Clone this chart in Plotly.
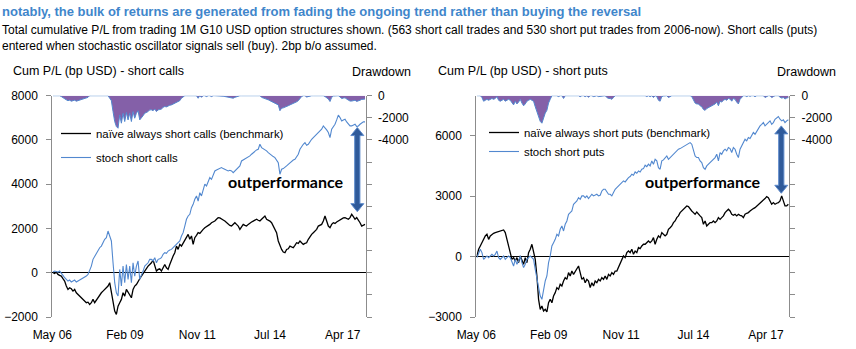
import pandas as pd
import plotly.graph_objects as go

W, H = 856, 349

# ---------------- data ----------------
read_start, read_end = "2006-06-04", "2018-02-14"
axis_start, axis_end = "2006-05-26", "2018-02-23"
tick_dates = ["2006-05-26", "2009-02-13", "2011-11-03", "2014-07-24", "2017-04-13"]
tick_labels = ["May 06", "Feb 09", "Nov 11", "Jul 14", "Apr 17"]

calls_naive = [0, -30, 30, -75, -120, -150, -270, -375, -600, -755, -680, -725, -830, -755, -905, -980,
               -1055, -1130, -1205, -1280, -1355, -1330, -1430, -1355, -1205, -1355, -1235, -1130, -1025,
               -905, -830, -755, -680, -600, -450, -830, -1355, -1735, -1885, -1510, -1355, -1205, -905,
               -1055, -755, -905, -1055, -1130, -755, -600, -530, -375, -270, -150, -30, 75, 180, 300, 375,
               450, 575, 300, 75, 150, 180, 75, 270, 375, 225, 150, 375, 605, 755, 905, 1205, 1055, 1280,
               1205, 1355, 1510, 1660, 1735, 1510, 1660, 1280, 1585, 1690, 1810, 1780, 1885, 1960, 2035,
               2080, 2110, 2185, 2260, 2290, 2335, 2415, 2490, 2475, 2445, 2385, 2335, 2260, 2185, 2140,
               2110, 2185, 2260, 2185, 2110, 1960, 2080, 2185, 2140, 2110, 2185, 2260, 2290, 2335, 2385,
               2415, 2370, 2335, 2415, 2490, 2565, 2415, 2385, 2335, 2260, 2110, 1960, 1810, 1435, 1205,
               1055, 935, 905, 1055, 1085, 1205, 1175, 1130, 1235, 1355, 1325, 1435, 1355, 1280, 1325,
               1355, 1510, 1660, 1735, 1810, 1885, 1960, 2110, 2140, 2185, 2335, 2565, 2335, 2110, 2035,
               2185, 2260, 2230, 2290, 2335, 2415, 2445, 2475, 2490, 2445, 2415, 2490, 2640, 2535, 2415,
               2490, 2385, 2260, 2110, 2140, 2185]

calls_stoch = [30, 75, 60, 30, 75, 0, -120, -225, -300, -375, -330, -420, -375, -330, -420, -375, -330,
               -300, -270, -225, -150, -75, 75, 300, 605, 755, 905, 980, 1130, 1205, 1355, 1510, 1585,
               1885, 1660, 1435, 450, -450, -905, -1055, 150, -600, 300, -450, 375, -300, 300, -450, 450,
               -150, 300, 530, -300, -150, 75, 300, 375, 450, 605, 605, 530, 680, 450, 605, 635, 680, 830,
               905, 875, 980, 1025, 1055, 1130, 1205, 1280, 1355, 1435, 1660, 1810, 2110, 2415, 2565,
               2640, 2940, 3090, 3320, 3470, 3240, 3620, 3470, 3770, 4000, 3920, 4145, 4300, 4220, 4450,
               4600, 4645, 4675, 4705, 4750, 4705, 4675, 4645, 4600, 4630, 4600, 4525, 4600, 4675, 4750,
               4825, 5050, 5095, 5125, 5155, 5200, 5280, 5355, 5430, 5505, 5550, 5580, 5805, 5655, 5610,
               5580, 5505, 5430, 5355, 5280, 5250, 5200, 5095, 4975, 4450, 4675, 4705, 4750, 4825, 4900,
               4975, 5050, 5095, 5125, 5250, 5355, 5580, 5730, 5805, 5880, 5760, 5805, 5955, 6030, 6110,
               6185, 6260, 6335, 6410, 6485, 6635, 6560, 6455, 6335, 6110, 6485, 6605, 6710, 6905, 7120,
               7010, 6860, 6905, 6935, 6815, 6710, 6635, 6635, 6665, 6710, 6605, 6635, 6710, 6785, 6815,
               6815]

puts_naive = [35, 365, 530, 695, 860, 1030, 1110, 860, 1030, 1110, 1160, 1195, 1225, 1225, 1260, 1275,
              1325, 1195, 860, 450, 115, -135, -50, -215, -50, -300, 35, -135, -380, -50, -300, 200, 365,
              615, 200, -135, -960, -2120, -2620, -2455, -2700, -2620, -2750, -2290, -2120, -2290, -1955,
              -1790, -1540, -1625, -1375, -1460, -1210, -1045, -1130, -795, -960, -715, -880, -715, -630,
              -465, -795, -1130, -1045, -1295, -1130, -1210, -1540, -1295, -1460, -1210, -1295, -1130,
              -1210, -1045, -1130, -960, -1130, -880, -960, -795, -880, -715, -715, -545, -300, -135, 35,
              -50, 200, 280, 200, 365, 115, 280, 200, 450, 400, 530, 615, 615, 695, 780, 695, 780, 945,
              615, 860, 1030, 945, 1195, 1110, 1030, 1110, 1360, 1440, 1525, 1690, 1775, 1940, 2025,
              2190, 2270, 2355, 2435, 2520, 2485, 2355, 2270, 2190, 2105, 2220, 2105, 2025, 1940, 1610,
              1775, 1525, 1610, 1690, 1690, 1775, 1690, 1775, 1940, 1855, 1940, 2025, 2190, 2270, 2355,
              2270, 2105, 2055, 2105, 2025, 2105, 2055, 2025, 1940, 2105, 2155, 2190, 2270, 2355, 2390,
              2435, 2520, 2605, 2685, 2770, 2820, 2885, 2985, 2935, 2770, 2605, 2685, 2605, 2655, 2685,
              2770, 3020, 2770, 2520, 2520, 2605]

puts_stoch = [-50, 200, 365, 200, -135, -50, 35, -50, 35, 115, 35, 115, 280, -50, -135, -50, 35, -135,
              -50, 35, -50, -300, -465, -135, -380, -215, 35, -300, -545, -380, -135, -50, 35, -50, -135,
              -630, -1130, -1625, -1955, -2120, -1540, -1210, -960, -300, 35, 530, 695, 860, 1110, 1030,
              1360, 1525, 1275, 1610, 1775, 2105, 2190, 2270, 2605, 2685, 2770, 2935, 2850, 3020, 3020,
              2935, 3020, 2885, 3020, 3100, 3020, 3050, 3100, 3020, 3050, 3265, 3350, 3350, 3185, 3100,
              3100, 3020, 3185, 3350, 3430, 3515, 3600, 3680, 3765, 3715, 3845, 3930, 3980, 4095, 4045,
              4210, 4145, 4260, 4210, 4345, 4375, 4545, 4475, 4595, 4510, 4760, 4595, 4840, 4760, 4425,
              4345, 4760, 4810, 4925, 5005, 4840, 4925, 5040, 5090, 5175, 5255, 5340, 5370, 5420, 5470,
              5540, 5590, 5635, 5670, 5590, 5340, 5005, 4925, 4925, 4760, 4675, 4425, 4345, 4510, 4595,
              4675, 4760, 4810, 4925, 5090, 4760, 5175, 5090, 5255, 5340, 5255, 5420, 5370, 5175, 5420,
              5340, 5090, 4925, 5340, 5505, 5670, 5835, 5755, 5920, 5870, 6000, 6170, 6085, 6250, 6335,
              6500, 6580, 6665, 6500, 6580, 6700, 6750, 6580, 6665, 6830, 6915, 6965, 6830, 6750, 6800,
              6665, 6750, 6800]

left_range = [-2000, 8000]
right_range = [-3000, 8000]
dd_range = [-20000, 0]
dd_ticks = list(range(0, -20001, -2000))
dd_ticktext = ["0", "-2000", "-4000"] + [""] * (len(dd_ticks) - 3)

# arrows (date, top value, bottom value)
left_arrow = ("2017-10-31", 6560, 2760)
right_arrow = ("2017-11-09", 6500, 3150)

# ---------------- styling ----------------
BLUE = "#5288CF"
PURPLE = "#8460A8"
AXIS_GREY = "#8C8C8C"
TITLE_BLUE = "#3F86CB"
ARROW_FILL = "#2F5A9A"
ARROW_EDGE = "#5D8ACB"
FONT = "Liberation Sans, Arial, sans-serif"

y_dom = [1 - 317.0 / H, 1 - 95.7 / H]
xL_dom = [52.3 / W, 365.7 / W]
xR_dom = [476.3 / W, 789.0 / W]


def dates_for(vals):
    return pd.date_range(read_start, read_end, periods=len(vals))


def drawdown(vals):
    s = pd.Series(vals, dtype=float)
    return (s - s.cummax()).tolist()


fig = go.Figure()

# left chart
fig.add_trace(go.Scatter(x=dates_for(calls_stoch), y=drawdown(calls_stoch), xaxis="x", yaxis="y2",
                         mode="lines", line=dict(color=BLUE, width=1), fill="tozeroy",
                         fillcolor=PURPLE, showlegend=False, hoverinfo="skip"))
fig.add_trace(go.Scatter(x=dates_for(calls_naive), y=calls_naive, xaxis="x", yaxis="y",
                         mode="lines", line=dict(color="#000000", width=1.3),
                         name="naïve always short calls (benchmark)", legend="legend", legendgroup="a"))
fig.add_trace(go.Scatter(x=dates_for(calls_stoch), y=calls_stoch, xaxis="x", yaxis="y",
                         mode="lines", line=dict(color=BLUE, width=1.1),
                         name="stoch short calls", legend="legend", legendgroup="b"))
# right chart
fig.add_trace(go.Scatter(x=dates_for(puts_stoch), y=drawdown(puts_stoch), xaxis="x2", yaxis="y4",
                         mode="lines", line=dict(color=BLUE, width=1), fill="tozeroy",
                         fillcolor=PURPLE, showlegend=False, hoverinfo="skip"))
fig.add_trace(go.Scatter(x=dates_for(puts_naive), y=puts_naive, xaxis="x2", yaxis="y3",
                         mode="lines", line=dict(color="#000000", width=1.3),
                         name="naïve always short puts (benchmark)", legend="legend2", legendgroup="c"))
fig.add_trace(go.Scatter(x=dates_for(puts_stoch), y=puts_stoch, xaxis="x2", yaxis="y3",
                         mode="lines", line=dict(color=BLUE, width=1.1),
                         name="stoch short puts", legend="legend2", legendgroup="d"))

tickfont = dict(family=FONT, size=12, color="#000000")


def xaxis(dom, anchor):
    return dict(domain=dom, anchor=anchor, type="date", range=[axis_start, axis_end], tickvals=tick_dates,
                ticktext=tick_labels, showline=False, ticks="", showgrid=False, zeroline=False,
                tickfont=tickfont, ticklabelstandoff=9, automargin=False, fixedrange=True)


def tick_overlay(base, yrange):
    pos = y_dom[0] + (0 - yrange[0]) / (yrange[1] - yrange[0]) * (y_dom[1] - y_dom[0])
    return dict(overlaying=base, anchor="free", position=pos, type="date", range=[axis_start, axis_end],
                tickvals=tick_dates, ticks="outside", ticklen=5, tickcolor="#000000", tickwidth=1,
                showticklabels=False, showline=False, showgrid=False, zeroline=False, automargin=False)


def yleft(anchor, rng, dtick):
    return dict(domain=y_dom, anchor=anchor, range=rng, dtick=dtick, tick0=0, ticks="outside",
                ticklen=5, tickcolor=AXIS_GREY, showline=True, linecolor=AXIS_GREY, linewidth=1,
                showgrid=False, zeroline=True, zerolinecolor="#000000", zerolinewidth=1,
                tickfont=tickfont, ticklabelstandoff=6, automargin=False)


def yright(anchor, base):
    return dict(overlaying=base, anchor=anchor, side="right", range=dd_range, tickvals=dd_ticks,
                ticktext=dd_ticktext, ticks="outside", ticklen=5, tickcolor=AXIS_GREY, showline=True,
                linecolor=AXIS_GREY, linewidth=1, showgrid=False, zeroline=False, tickfont=tickfont,
                ticklabelstandoff=4, automargin=False)


legend_font = dict(family=FONT, size=11.4, color="#000000")

fig.update_layout(
    width=W, height=H, margin=dict(l=0, r=0, t=0, b=0, autoexpand=False),
    paper_bgcolor="white", plot_bgcolor="rgba(0,0,0,0)",
    xaxis=xaxis(xL_dom, "y"), xaxis2=xaxis(xR_dom, "y3"),
    xaxis3=tick_overlay("x", left_range), xaxis4=tick_overlay("x2", right_range),
    yaxis=yleft("x", left_range, 2000), yaxis2=yright("x", "y"),
    yaxis3=yleft("x2", right_range, 3000), yaxis4=yright("x2", "y3"),
    legend=dict(x=56 / W, y=1 - 119 / H, xanchor="left", yanchor="top", bgcolor="rgba(0,0,0,0)",
                font=legend_font, tracegroupgap=5, itemwidth=30),
    legend2=dict(x=484 / W, y=1 - 118 / H, xanchor="left", yanchor="top", bgcolor="rgba(0,0,0,0)",
                 font=legend_font, tracegroupgap=0, itemwidth=30),
    showlegend=True,
)


def arrow_shape(xref, yref, spec, head_px):
    xd, ytop, ybot = spec
    rng = left_range if yref == "y" else right_range
    px_per_unit = (y_dom[1] - y_dom[0]) * H / (rng[1] - rng[0])
    hd = head_px / px_per_unit
    sw, hw = 2.6, 6.5
    path = (f"M 0,{ytop} L {hw},{ytop - hd} L {sw},{ytop - hd} L {sw},{ybot + hd} L {hw},{ybot + hd} "
            f"L 0,{ybot} L {-hw},{ybot + hd} L {-sw},{ybot + hd} L {-sw},{ytop - hd} L {-hw},{ytop - hd} Z")
    return dict(type="path", xref=xref, yref=yref, xsizemode="pixel", xanchor=xd, path=path,
                fillcolor=ARROW_FILL, line=dict(color=ARROW_EDGE, width=1), layer="above")


fig.add_shape(arrow_shape("x", "y", left_arrow, 8))
fig.add_shape(arrow_shape("x2", "y3", right_arrow, 8))


def ann(text, xpx, ypx, size, color="#000000", bold=False, family=FONT, xanchor="left"):
    fig.add_annotation(text=f"<b>{text}</b>" if bold else text, xref="paper", yref="paper",
                       x=xpx / W, y=1 - ypx / H, xanchor=xanchor, yanchor="middle", showarrow=False,
                       font=dict(family=family, size=size, color=color))


ann("notably, the bulk of returns are generated from fading the ongoing trend rather than buying the reversal",
    0, 11, 13, TITLE_BLUE, True)
ann("Total cumulative P/L from trading 1M G10 USD option structures shown. (563 short call trades and 530 "
    "short put trades from 2006-now). Short calls (puts)", 0, 30, 12)
ann("entered when stochastic oscillator signals sell (buy). 2bp b/o assumed.", 0, 46, 12)
ann("Cum P/L (bp USD) - short calls", 11, 71, 12.5)
ann("Drawdown", 413, 72, 12.5, xanchor="right")
ann("Cum P/L (bp USD) - short puts", 436, 71, 12.5)
ann("Drawdown", 838, 72, 12.5, xanchor="right")
ann("outperformance", 286, 182, 16, bold=True, family="Lato, Carlito, sans-serif", xanchor="center")
ann("outperformance", 703, 181, 16, bold=True, family="Lato, Carlito, sans-serif", xanchor="center")

fig.write_html("out.html")
